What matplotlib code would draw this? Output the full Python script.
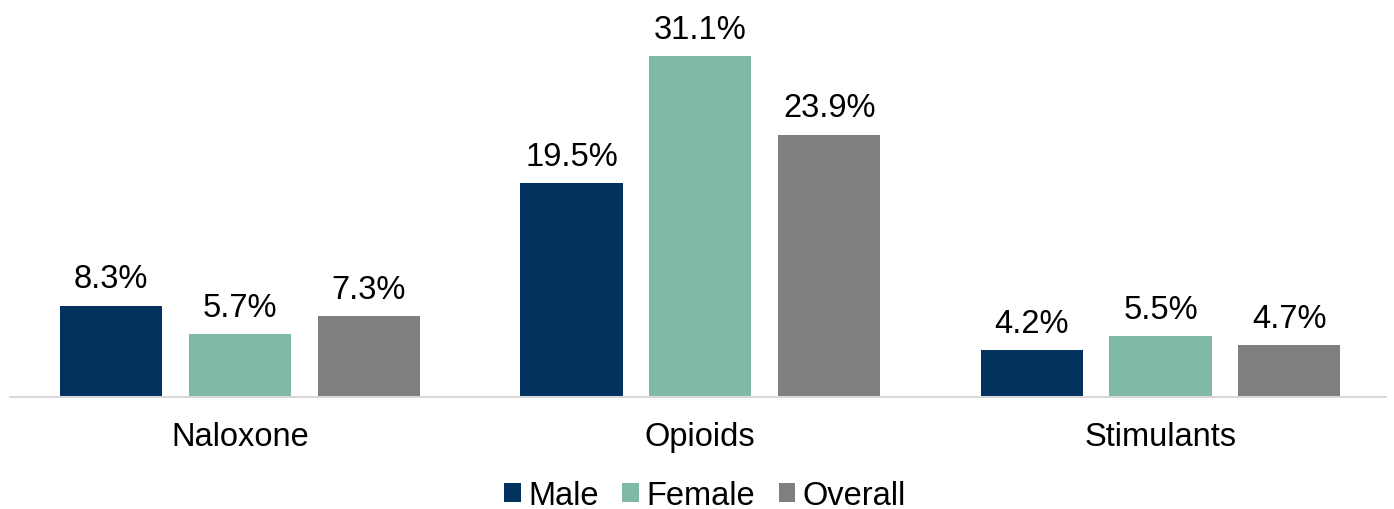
import matplotlib
matplotlib.use("Agg")
import matplotlib.pyplot as plt
import numpy as np

# 数据
categories = ["Naloxone", "Opioids", "Stimulants"]
series_names = ["Male", "Female", "Overall"]
male = [8.3, 19.5, 4.2]
female = [5.7, 31.1, 5.5]
overall = [7.3, 23.9, 4.7]
colors = ["#03325F", "#80B9A6", "#7F7F7F"]

plt.rcParams['font.family'] = ['Liberation Sans', 'DejaVu Sans']
fs = 23.5

fig = plt.figure(figsize=(13.94, 5.10), dpi=100)
ax = fig.add_axes([10 / 1394, 112.5 / 510, 1376 / 1394, 383.6 / 510])

x = np.arange(len(categories))
width = 0.222
offsets = [-0.28, 0, 0.28]

for vals, name, color, off in zip([male, female, overall], series_names, colors, offsets):
    bars = ax.bar(x + off, vals, width, color=color, label=name)
    # 数值标签
    for b, v in zip(bars, vals):
        ax.annotate("%.1f%%" % v, (b.get_x() + b.get_width() / 2, v),
                    xytext=(0, 8), textcoords="offset points",
                    ha="center", va="bottom", fontsize=fs, color="black")

ax.set_xlim(-0.5, 2.49)
ax.set_ylim(0, 35)
ax.set_xticks(x)
ax.set_xticklabels(categories, fontsize=fs)
ax.tick_params(axis="x", length=0, pad=18)
ax.set_yticks([])
for s in ["top", "right", "left"]:
    ax.spines[s].set_visible(False)
ax.spines["bottom"].set_color("#D9D9D9")
ax.spines["bottom"].set_linewidth(1.5)

# 图例
fig.legend(loc="center", bbox_to_anchor=(705 / 1394, 1 - 497 / 510), ncol=3,
           frameon=False, fontsize=fs, handlelength=0.52, handleheight=0.52,
           handletextpad=0.22, columnspacing=0.72)

fig.savefig("out.png", dpi=100)
